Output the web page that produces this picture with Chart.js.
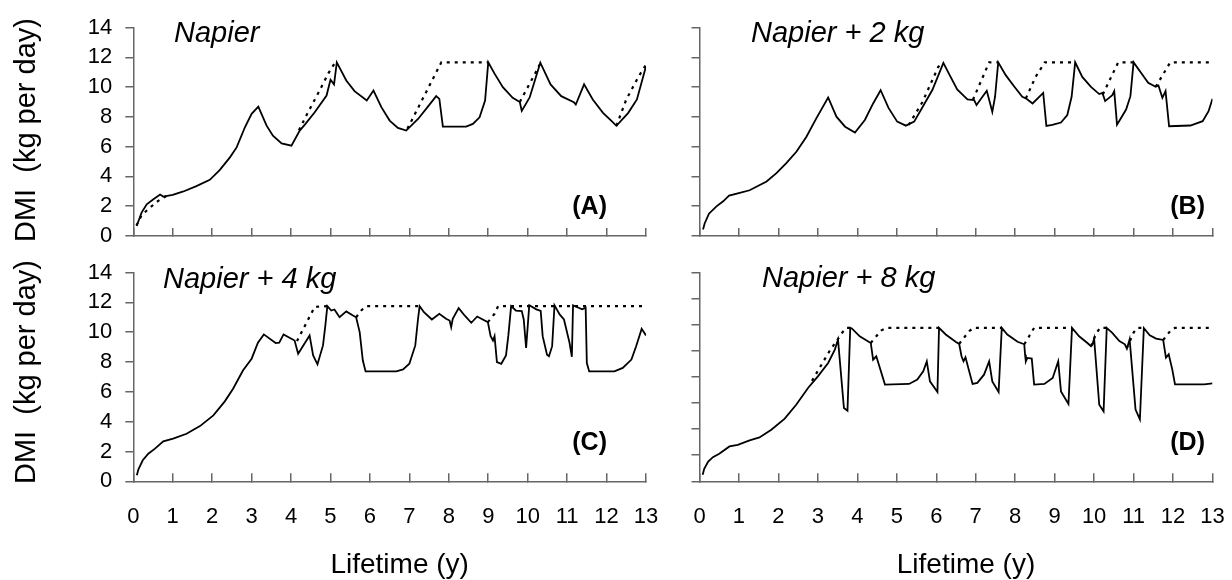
<!DOCTYPE html>
<html>
<head>
<meta charset="utf-8">
<title>DMI over lifetime</title>
<script src="https://cdn.jsdelivr.net/npm/chart.js@4.4.1/dist/chart.umd.min.js"></script>
<style>
  body { margin: 0; background: #fff; }
  #wrap { position: relative; width: 1232px; height: 580px; }
  #wrap canvas { position: absolute; }
</style>
</head>
<body>
<div id="wrap">
  <canvas id="chartA" width="660" height="250" style="left:0;top:0"></canvas>
  <canvas id="chartB" width="572" height="250" style="left:660px;top:0"></canvas>
  <canvas id="chartC" width="660" height="330" style="left:0;top:250px"></canvas>
  <canvas id="chartD" width="572" height="330" style="left:660px;top:250px"></canvas>
</div>
<script>
// --- data (x = lifetime in years, y = DMI kg/day) ---
// solid line = actual intake, dotted = potential intake (only where it differs)

const yearA = [0.085, 0.21, 0.34, 0.51, 0.68, 0.76, 1.0, 1.27, 1.6, 1.94, 2.19, 2.45, 2.62, 2.83, 3.0, 3.17, 3.38, 3.54, 3.76, 4.01, 4.22, 4.35, 4.6, 4.9, 5.0, 5.09, 5.16, 5.4, 5.61, 5.92, 6.09, 6.29, 6.5, 6.71, 6.92, 7.22, 7.47, 7.68, 7.76, 7.85, 8.44, 8.61, 8.78, 8.92, 9.0, 9.16, 9.37, 9.62, 9.8, 9.85, 10.05, 10.32, 10.58, 10.85, 11.17, 11.22, 11.43, 11.65, 11.91, 12.13, 12.25, 12.55, 12.77, 13.0];
const dmiA = [0.67, 1.57, 2.13, 2.47, 2.78, 2.65, 2.76, 2.99, 3.35, 3.77, 4.43, 5.28, 5.95, 7.3, 8.2, 8.69, 7.41, 6.74, 6.22, 6.06, 7.08, 7.48, 8.31, 9.43, 10.49, 10.18, 11.66, 10.44, 9.73, 9.1, 9.77, 8.65, 7.75, 7.26, 7.08, 7.86, 8.69, 9.39, 9.21, 7.35, 7.35, 7.53, 7.97, 9.1, 11.66, 10.9, 9.99, 9.28, 9.0, 8.4, 9.3, 11.64, 10.18, 9.39, 8.99, 8.83, 10.18, 9.17, 8.27, 7.71, 7.4, 8.27, 9.17, 11.4];
const potYearA = [0.08, 0.21, 0.42, 0.63, 0.85, 0.85, 4.2, 4.43, 4.7, 4.95, 5.12, 5.12, 6.95, 7.81, 9.0, 9.0, 9.8, 10.2, 10.3, 10.3, 12.25, 12.5, 12.82, 13.0];
const potDmiA = [0.7, 1.4, 1.9, 2.36, 2.7, null, 7.1, 8.31, 9.65, 10.94, 11.66, null, 7.2, 11.66, 11.66, null, 9.0, 10.97, 11.5, null, 7.4, 9.17, 10.74, 11.5];

const yearB = [0.09, 0.13, 0.24, 0.43, 0.6, 0.75, 1.02, 1.27, 1.7, 1.95, 2.2, 2.46, 2.71, 2.96, 3.26, 3.47, 3.69, 3.94, 4.19, 4.4, 4.59, 4.79, 5.01, 5.23, 5.44, 5.65, 5.9, 6.07, 6.18, 6.32, 6.53, 6.79, 6.96, 7.02, 7.28, 7.42, 7.49, 7.57, 7.76, 7.97, 8.18, 8.27, 8.44, 8.71, 8.79, 8.94, 9.16, 9.32, 9.43, 9.52, 9.7, 9.92, 10.13, 10.21, 10.28, 10.46, 10.51, 10.58, 10.66, 10.81, 10.92, 11.0, 11.22, 11.37, 11.56, 11.63, 11.73, 11.81, 11.9, 12.44, 12.75, 12.9, 13.0];
const dmiB = [0.43, 0.84, 1.5, 1.99, 2.33, 2.71, 2.89, 3.07, 3.66, 4.22, 4.89, 5.67, 6.67, 7.9, 9.3, 8.01, 7.34, 6.94, 7.79, 8.9, 9.79, 8.6, 7.68, 7.41, 7.68, 8.64, 9.8, 10.9, 11.62, 10.9, 9.84, 9.17, 9.13, 8.79, 9.75, 8.34, 9.35, 11.66, 10.8, 10.06, 9.35, 9.24, 8.9, 9.61, 7.39, 7.46, 7.62, 8.12, 9.35, 11.66, 10.68, 10.01, 9.53, 9.61, 9.06, 9.46, 9.73, 7.48, 7.82, 8.49, 9.39, 11.66, 10.85, 10.29, 10.02, 10.11, 9.28, 9.73, 7.37, 7.42, 7.71, 8.38, 9.21];
const potYearB = [5.3, 5.65, 6.05, 6.15, 6.15, 6.93, 7.34, 7.57, 7.57, 8.27, 8.52, 8.75, 9.52, 9.52, 10.22, 10.61, 11.0, 11.0, 11.56, 11.93, 13.0];
const potDmiB = [7.45, 9.0, 11.35, 11.62, null, 9.15, 11.66, 11.66, null, 9.24, 10.7, 11.66, 11.66, null, 9.5, 11.66, 11.66, null, 10.02, 11.66, 11.66];

const yearC = [0.09, 0.13, 0.24, 0.38, 0.55, 0.76, 1.01, 1.35, 1.69, 2.03, 2.32, 2.53, 2.78, 3.0, 3.16, 3.31, 3.61, 3.7, 3.81, 4.09, 4.18, 4.47, 4.56, 4.67, 4.81, 4.87, 4.92, 5.02, 5.1, 5.23, 5.4, 5.57, 5.65, 5.74, 5.82, 5.89, 6.67, 6.84, 7.0, 7.15, 7.22, 7.26, 7.37, 7.57, 7.76, 7.93, 8.02, 8.06, 8.1, 8.25, 8.4, 8.57, 8.72, 8.86, 8.99, 9.06, 9.12, 9.16, 9.22, 9.33, 9.45, 9.51, 9.58, 9.7, 9.85, 9.9, 9.96, 10.04, 10.22, 10.33, 10.38, 10.49, 10.54, 10.62, 10.68, 10.81, 10.92, 11.06, 11.12, 11.15, 11.29, 11.38, 11.47, 11.5, 11.56, 12.2, 12.41, 12.63, 12.75, 12.89, 13.0];
const dmiC = [0.4, 0.8, 1.41, 1.85, 2.19, 2.68, 2.86, 3.19, 3.7, 4.42, 5.36, 6.21, 7.43, 8.22, 9.29, 9.85, 9.27, 9.29, 9.85, 9.44, 8.55, 9.78, 8.44, 7.84, 9.11, 10.45, 11.74, 11.45, 11.52, 11.0, 11.39, 11.12, 11.0, 10.0, 8.1, 7.37, 7.37, 7.5, 7.88, 9.11, 10.9, 11.74, 11.34, 10.85, 11.23, 10.9, 10.78, 10.34, 10.9, 11.61, 11.12, 10.63, 11.05, 10.85, 10.67, 9.73, 9.44, 9.73, 7.99, 7.88, 8.44, 9.78, 11.74, 11.45, 11.42, 10.85, 8.94, 11.8, 11.53, 11.42, 9.73, 8.49, 8.38, 9.06, 11.8, 11.19, 10.85, 9.3, 8.35, 11.8, 11.64, 11.53, 11.64, 7.93, 7.37, 7.37, 7.6, 8.16, 9.06, 10.22, 9.78];
const potYearC = [4.15, 4.6, 4.92, 4.92, 5.65, 5.78, 5.9, 7.26, 7.26, 8.99, 9.16, 9.25, 13.0];
const potDmiC = [9.4, 11.7, 11.74, null, 11.0, 11.45, 11.74, 11.74, null, 10.67, 11.23, 11.74, 11.74];

// panel D is drawn on a 0-16 axis (unlabelled ticks every 2)
const yearD = [0.08, 0.12, 0.22, 0.34, 0.5, 0.76, 0.97, 1.27, 1.52, 1.82, 2.16, 2.45, 2.75, 3.0, 3.26, 3.43, 3.51, 3.66, 3.75, 3.82, 3.86, 4.06, 4.34, 4.4, 4.48, 4.7, 5.31, 5.52, 5.67, 5.76, 5.84, 6.03, 6.07, 6.24, 6.49, 6.58, 6.64, 6.69, 6.74, 6.92, 7.04, 7.21, 7.34, 7.42, 7.58, 7.66, 7.8, 8.06, 8.23, 8.25, 8.27, 8.31, 8.42, 8.48, 8.74, 8.95, 9.09, 9.16, 9.35, 9.44, 9.62, 9.83, 9.92, 9.96, 10.0, 10.13, 10.24, 10.32, 10.46, 10.64, 10.78, 10.83, 10.9, 11.05, 11.16, 11.26, 11.41, 11.57, 11.75, 11.82, 11.89, 11.98, 12.05, 12.79, 13.0];
const dmiD = [0.5, 0.96, 1.52, 1.85, 2.11, 2.67, 2.8, 3.13, 3.36, 3.95, 4.8, 5.87, 7.15, 8.04, 9.07, 10.09, 10.86, 5.62, 5.41, 11.76, 11.71, 11.11, 10.6, 9.32, 9.58, 7.41, 7.46, 7.79, 8.43, 9.19, 7.66, 6.84, 11.76, 11.25, 10.69, 10.53, 9.58, 9.19, 9.5, 7.46, 7.54, 8.17, 9.19, 7.66, 6.84, 11.76, 11.25, 10.69, 10.5, 9.7, 9.19, 9.45, 9.4, 7.41, 7.46, 7.92, 9.19, 6.89, 5.92, 11.76, 11.11, 10.6, 10.35, 10.5, 10.94, 5.87, 5.36, 11.76, 11.38, 10.75, 10.5, 10.16, 10.88, 5.5, 4.74, 11.73, 11.19, 10.93, 10.83, 9.47, 9.73, 8.58, 7.42, 7.42, 7.5];
const potYearD = [2.85, 3.3, 3.62, 3.72, 3.82, 3.82, 4.34, 4.6, 4.75, 6.07, 6.07, 6.58, 6.83, 6.95, 7.66, 7.66, 8.23, 8.35, 8.48, 9.44, 9.44, 9.92, 10.05, 10.15, 10.32, 10.32, 10.83, 11.0, 11.1, 11.26, 11.26, 11.75, 11.95, 12.05, 13.0];
const potDmiD = [7.7, 10.0, 11.4, 11.76, 11.76, null, 10.6, 11.55, 11.76, 11.76, null, 10.53, 11.5, 11.76, 11.76, null, 10.5, 11.1, 11.76, 11.76, null, 10.35, 11.3, 11.76, 11.76, null, 10.2, 11.4, 11.76, 11.76, null, 10.83, 11.6, 11.76, 11.76];

const xTicks = [0, 1, 2, 3, 4, 5, 6, 7, 8, 9, 10, 11, 12, 13];

const family = 'Arial, "Liberation Sans", sans-serif';
const axisColor = '#666';

function toPoints(xs, ys) {
    return xs.map((x, i) => ({ x: x, y: ys[i] }));
}

// titles, panel letters and the rotated y title
const panelText = {
    id: 'panelText',
    afterDraw(chart, args, opts) {
        const ctx = chart.ctx;
        const area = chart.chartArea;
        ctx.save();
        ctx.fillStyle = '#000';
        ctx.textBaseline = 'alphabetic';
        ctx.textAlign = 'left';
        ctx.font = 'italic 29px ' + family;
        ctx.fillText(opts.title, opts.titleX, opts.titleY);
        ctx.textAlign = 'right';
        ctx.font = 'bold 25px ' + family;
        ctx.fillText(opts.tag, opts.tagX, opts.tagY);
        if (opts.yTitle) {
            ctx.save();
            ctx.translate(27, opts.yTitleY);
            ctx.rotate(-Math.PI / 2);
            ctx.textAlign = 'center';
            ctx.textBaseline = 'middle';
            ctx.font = '29px ' + family;
            ctx.fillText('DMI  (kg per day)', 0, 0);
            ctx.restore();
        }
        if (opts.xTitle) {
            ctx.textAlign = 'center';
            ctx.textBaseline = 'middle';
            ctx.font = '28px ' + family;
            ctx.fillText('Lifetime (y)', (area.left + area.right) / 2 + 10, chart.height - 15);
        }
        ctx.restore();
    }
};

function makePanel(id, p) {
    new Chart(document.getElementById(id), {
        type: 'line',
        data: {
            datasets: [{
                data: toPoints(p.years, p.dmi),
                borderColor: '#000',
                borderWidth: 1.8,
                pointRadius: 0,
                tension: 0
            },
            {
                data: toPoints(p.potYears, p.potDmi),
                borderColor: '#000',
                borderWidth: 2.2,
                borderDash: [3, 5],
                pointRadius: 0,
                tension: 0,
                spanGaps: false
            }]
        },
        options: {
            responsive: false,
            animation: false,
            events: [],
            layout: { padding: { top: p.top, right: p.right, left: 0, bottom: 0 } },
            plugins: {
                legend: { display: false },
                tooltip: { enabled: false },
                panelText: p.text
            },
            scales: {
                x: {
                    type: 'linear',
                    min: 0,
                    max: 13,
                    afterFit: s => {
                        s.height = p.xHeight;
                        s.paddingLeft = 0;
                        s.paddingRight = 0;
                    },
                    afterBuildTicks: s => { s.ticks = xTicks.map(v => ({ value: v })); },
                    ticks: {
                        display: p.xLabels,
                        color: '#000',
                        font: { size: 22, family: family },
                        padding: 30,
                        maxRotation: 0,
                        autoSkip: false
                    },
                    grid: { drawOnChartArea: false, tickLength: -8, color: axisColor, lineWidth: 1.5 },
                    border: { color: axisColor, width: 1.5 }
                },
                y: {
                    min: 0,
                    max: p.yMax,
                    afterFit: s => {
                        s.width = p.yWidth;
                        s.paddingTop = 0;
                        s.paddingBottom = 0;
                    },
                    ticks: {
                        stepSize: 2,
                        display: p.yLabels,
                        autoSkip: false,
                        color: '#000',
                        font: { size: 22, family: family },
                        padding: 13
                    },
                    grid: { drawOnChartArea: false, tickLength: 8, color: axisColor, lineWidth: 1.5 },
                    border: { color: axisColor, width: 1.5 }
                }
            }
        },
        plugins: [panelText]
    });
}

makePanel('chartA', {
    years: yearA, dmi: dmiA, potYears: potYearA, potDmi: potDmiA,
    yMax: 14, top: 27.5, right: 14, xHeight: 14, yWidth: 133.3,
    xLabels: false, yLabels: true,
    text: { title: 'Napier', titleX: 174, titleY: 42, tag: '(A)', tagX: 607, tagY: 214, yTitle: true, yTitleY: 130, xTitle: false }
});
makePanel('chartB', {
    years: yearB, dmi: dmiB, potYears: potYearB, potDmi: potDmiB,
    yMax: 14, top: 27.5, right: 19.5, xHeight: 14, yWidth: 39.5,
    xLabels: false, yLabels: false,
    text: { title: 'Napier + 2 kg', titleX: 91, titleY: 42, tag: '(B)', tagX: 545, tagY: 214, yTitle: false, xTitle: false }
});
makePanel('chartC', {
    years: yearC, dmi: dmiC, potYears: potYearC, potDmi: potDmiC,
    yMax: 14, top: 22.5, right: 14, xHeight: 98.7, yWidth: 133.3,
    xLabels: true, yLabels: true,
    text: { title: 'Napier + 4 kg', titleX: 163, titleY: 38, tag: '(C)', tagX: 607, tagY: 200, yTitle: true, yTitleY: 122, xTitle: true }
});
makePanel('chartD', {
    years: yearD, dmi: dmiD, potYears: potYearD, potDmi: potDmiD,
    yMax: 16, top: 22.5, right: 19.5, xHeight: 98.7, yWidth: 39.5,
    xLabels: true, yLabels: false,
    text: { title: 'Napier + 8 kg', titleX: 102, titleY: 37, tag: '(D)', tagX: 545, tagY: 200, yTitle: false, xTitle: true }
});
</script>
</body>
</html>
